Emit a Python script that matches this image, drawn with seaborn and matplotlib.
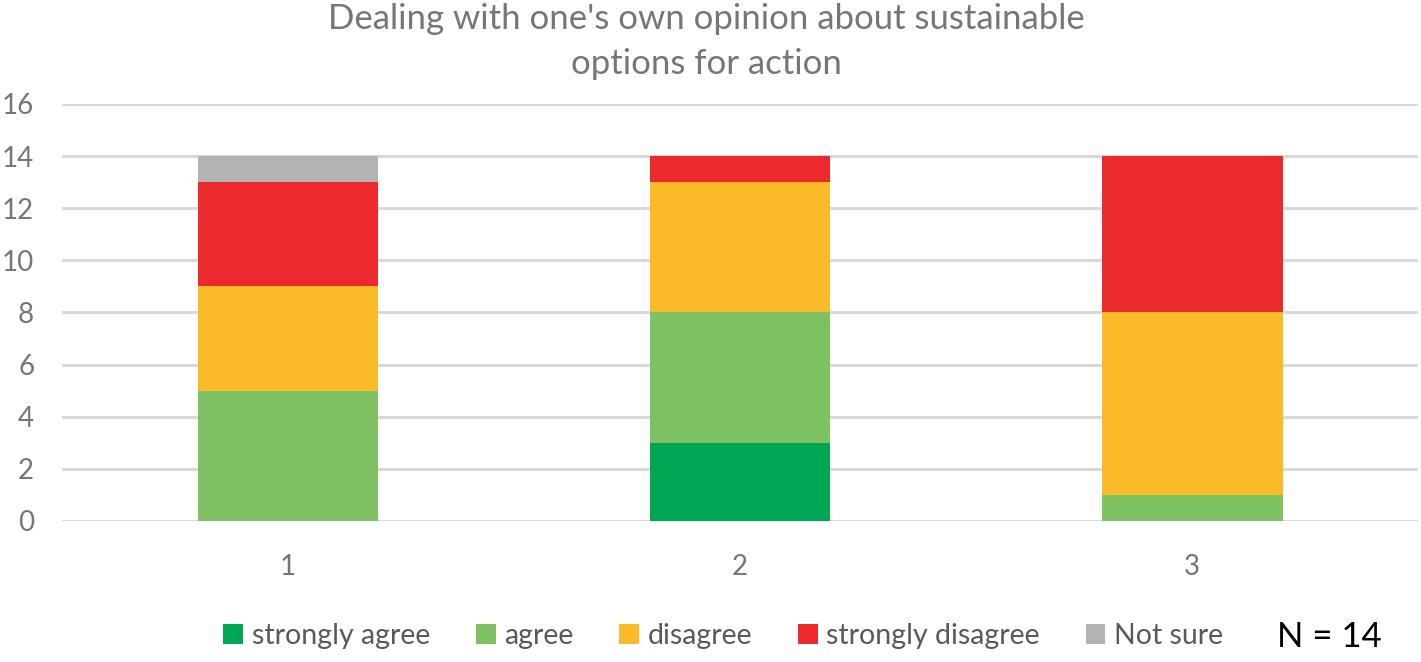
import matplotlib
matplotlib.use("Agg")
import matplotlib.pyplot as plt
from matplotlib.patches import Patch
import seaborn as sns
import pandas as pd
import numpy as np

categories = ["1", "2", "3"]
series_names = ["strongly agree", "agree", "disagree", "strongly disagree", "Not sure"]
strongly_agree = [0, 3, 0]
agree = [5, 5, 1]
disagree = [4, 5, 7]
strongly_disagree = [4, 1, 6]
not_sure = [1, 0, 0]
colors = ["#00A651", "#7DC163", "#FBBA27", "#EC2A2D", "#B2B3B5"]
y_ticks = [0, 2, 4, 6, 8, 10, 12, 14, 16]

sns.set_style("white")
plt.rcParams['font.family'] = ['Lato', 'DejaVu Sans']

values = [strongly_agree, agree, disagree, strongly_disagree, not_sure]
cumulative = np.cumsum(np.array(values), axis=0)

fig = plt.figure(figsize=(14.21, 6.62), dpi=100)
ax = fig.add_axes([0.0436, 0.213, 0.9544, 0.630])

# draw cumulative totals from the top down so lower segments sit in front
for i in range(len(series_names) - 1, -1, -1):
    df = pd.DataFrame({"category": categories, "total": cumulative[i]})
    sns.barplot(data=df, x="category", y="total", color=colors[i], width=0.4,
                saturation=1, linewidth=0, ax=ax, zorder=3)

ax.set_ylim(0, 16)
ax.set_yticks(y_ticks)
ax.set_xlim(-0.5, 2.5)
ax.grid(axis="y", color="#D9D9D9", linewidth=2.2, zorder=0)
ax.set_axisbelow(True)
for s in ax.spines.values():
    s.set_visible(False)
ax.set_xlabel("")
ax.set_ylabel("")
ax.tick_params(axis="both", length=0, labelsize=20, labelcolor="#767676")
ax.tick_params(axis="y", pad=20)
ax.tick_params(axis="x", pad=24)

fig.text(0.497, 0.995, "Dealing with one's own opinion about sustainable\noptions for action",
         ha="center", va="top", fontsize=25, color="#767676", linespacing=1.5)

handles = [Patch(facecolor=c, edgecolor="none") for c in colors]
fig.legend(handles, series_names, loc="center", bbox_to_anchor=(0.509, 0.04),
           ncol=5, frameon=False, fontsize=20.5, handlelength=0.7, handleheight=0.7,
           handletextpad=0.3, columnspacing=1.6, labelcolor="#595959")
fig.text(0.899, 0.038, "N = 14", ha="left", va="center", fontsize=25, color="black")

fig.savefig("out.png", dpi=100)
